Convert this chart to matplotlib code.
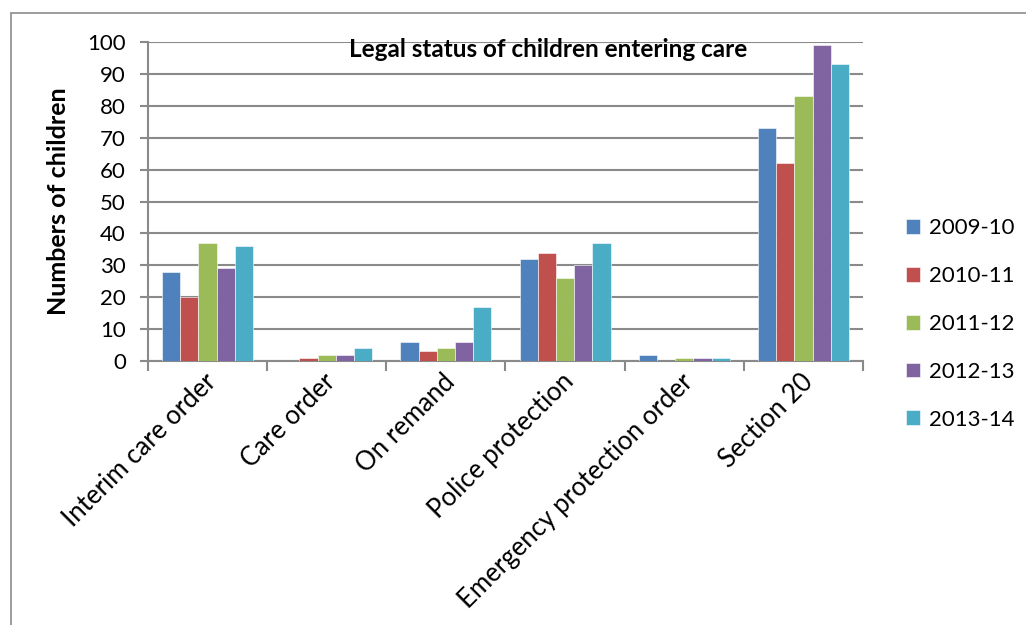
import numpy as np
import matplotlib.pyplot as plt
from matplotlib.patches import Rectangle

# Legal status of children entering care, by year
categories = ["Interim care order", "Care order", "On remand", "Police protection",
              "Emergency protection order", "Section 20"]
years = ["2009-10", "2010-11", "2011-12", "2012-13", "2013-14"]
counts_2009 = [28, 0, 6, 32, 2, 73]
counts_2010 = [20, 1, 3, 34, 0, 62]
counts_2011 = [37, 2, 4, 26, 1, 83]
counts_2012 = [29, 2, 6, 30, 1, 99]
counts_2013 = [36, 4, 17, 37, 1, 93]
series = [counts_2009, counts_2010, counts_2011, counts_2012, counts_2013]
colors = ["#4F81BD", "#C0504D", "#9BBB59", "#8064A2", "#4BACC6"]

plt.rcParams['font.family'] = ['Lato', 'DejaVu Sans']

fig = plt.figure(figsize=(10.26, 6.25), dpi=100)
# light border round the chart area (runs off the right and bottom edges)
fig.patches.append(Rectangle((11 / 1026, -0.01), 1.0, 1 - 13 / 625 + 0.01,
                             transform=fig.transFigure, fill=False,
                             edgecolor="#8c8c8c", linewidth=1.2))

ax = fig.add_axes([148 / 1026, 1 - 361 / 625, (863 - 148) / 1026, (361 - 42) / 625])

x = np.arange(len(categories))
bw = 0.153
for i, (vals, c, lab) in enumerate(zip(series, colors, years)):
    ax.bar(x + (i - 2) * bw, vals, bw, color=c, label=lab,
           edgecolor="white", linewidth=0.4, zorder=3)

ax.set_xlim(-0.5, len(categories) - 0.5)
ax.set_ylim(0, 100)
ax.set_yticks(range(0, 101, 10))
ax.yaxis.grid(True, color="#8a8a8a", linewidth=1.5, zorder=0)
ax.set_axisbelow(True)

for s in ["top", "right"]:
    ax.spines[s].set_visible(False)
for s in ["left", "bottom"]:
    ax.spines[s].set_color("#8a8a8a")
    ax.spines[s].set_linewidth(1.5)

# category boundaries carry the ticks on the x axis
ax.set_xticks(np.arange(-0.5, len(categories) + 0.5, 1.0))
ax.set_xticklabels([])
ax.tick_params(axis="x", length=7, width=1.5, color="#8a8a8a", direction="out")
ax.tick_params(axis="y", length=6, width=1.5, color="#8a8a8a", labelsize=16, pad=10)

for xi, name in zip(x, categories):
    ax.text(xi - 0.03, -2.5, name, rotation=45, ha="right", va="top",
            rotation_mode="anchor", fontsize=18.5, transform=ax.transData)

ax.set_ylabel("Numbers of children", fontsize=18, fontweight="bold", labelpad=12)
ax.text(0.56, 0.975, "Legal status of children entering care", transform=ax.transAxes,
        ha="center", va="center", fontsize=17.5, fontweight="bold")

fig.legend(loc="center left", bbox_to_anchor=(886 / 1026, 1 - 324 / 625),
           frameon=False, fontsize=16, handlelength=0.65, handleheight=0.65,
           labelspacing=1.25, handletextpad=0.4)

fig.savefig("out.png", dpi=100)
